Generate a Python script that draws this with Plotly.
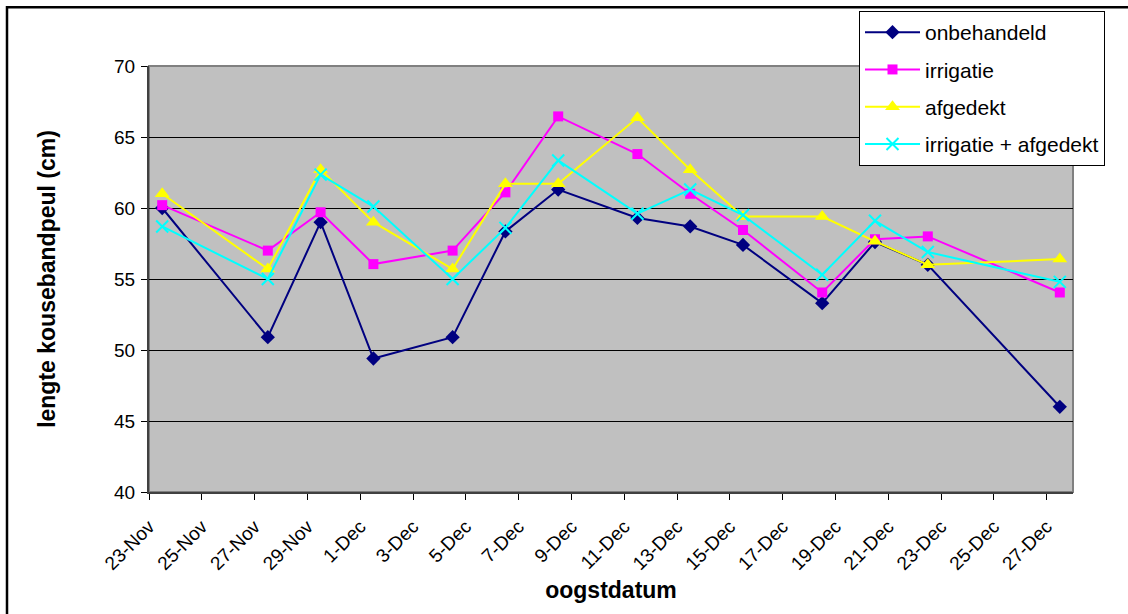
import plotly.graph_objects as go

dates = ["2006-11-23", "2006-11-27", "2006-11-29", "2006-12-01", "2006-12-04",
         "2006-12-06", "2006-12-08", "2006-12-11", "2006-12-13", "2006-12-15",
         "2006-12-18", "2006-12-20", "2006-12-22", "2006-12-27"]

onbehandeld = [60.0, 50.9, 59.0, 49.4, 50.9, 58.35, 61.3, 59.3, 58.7, 57.4, 53.3, 57.6, 56.0, 46.0]
irrigatie = [60.2, 57.0, 59.7, 56.05, 57.0, 61.1, 66.45, 63.8, 61.0, 58.45, 54.05, 57.8, 58.0, 54.05]
afgedekt = [61.0, 55.7, 62.7, 59.0, 55.7, 61.7, 61.7, 66.35, 62.7, 59.4, 59.4, 57.65, 56.0, 56.4]
irr_afgedekt = [58.7, 55.0, 62.35, 60.1, 55.0, 58.6, 63.35, 59.6, 61.3, 59.5, 55.3, 59.1, 56.9, 54.8]

series_names = ["onbehandeld", "irrigatie", "afgedekt", "irrigatie + afgedekt"]

tick_positions = ["2006-11-22 12:00", "2006-11-24 12:00", "2006-11-26 12:00", "2006-11-28 12:00",
                  "2006-11-30 12:00", "2006-12-02 12:00", "2006-12-04 12:00", "2006-12-06 12:00",
                  "2006-12-08 12:00", "2006-12-10 12:00", "2006-12-12 12:00", "2006-12-14 12:00",
                  "2006-12-16 12:00", "2006-12-18 12:00", "2006-12-20 12:00", "2006-12-22 12:00",
                  "2006-12-24 12:00", "2006-12-26 12:00"]
tick_labels = ["23-Nov", "25-Nov", "27-Nov", "29-Nov", "1-Dec", "3-Dec", "5-Dec", "7-Dec",
               "9-Dec", "11-Dec", "13-Dec", "15-Dec", "17-Dec", "19-Dec", "21-Dec", "23-Dec",
               "25-Dec", "27-Dec"]

FONT = "Arial, 'Liberation Sans', sans-serif"

styles = [
    dict(color="#000080", symbol="diamond", size=11, mline=0),
    dict(color="#FF00FF", symbol="square", size=10, mline=0),
    dict(color="#FFFF00", symbol="triangle-up", size=13, mline=0),
    dict(color="#00FFFF", symbol="x-thin", size=12, mline=2),
]

fig = go.Figure()
for name, vals, st in zip(series_names, [onbehandeld, irrigatie, afgedekt, irr_afgedekt], styles):
    fig.add_trace(go.Scatter(
        x=dates, y=vals, name=name, mode="lines+markers",
        legendgroup=name,
        line=dict(color=st["color"], width=2),
        marker=dict(symbol=st["symbol"], size=st["size"], color=st["color"],
                    line=dict(color=st["color"], width=st["mline"])),
    ))

W, H = 1128, 614
L, R, T, B = 149, 1073, 65, 492
pw, ph = R - L, B - T

def px(x):
    return (x - L) / pw

def py(y):
    return (B - y) / ph

fig.update_layout(
    width=W, height=H,
    margin=dict(l=L, r=W - R, t=T, b=H - B),
    paper_bgcolor="white",
    plot_bgcolor="#C0C0C0",
    font=dict(family=FONT, size=19, color="black"),
    showlegend=True,
    hovermode=False,
    legend=dict(
        x=px(859), y=py(11), xanchor="left", yanchor="top",
        bgcolor="white", bordercolor="black", borderwidth=1,
        font=dict(family=FONT, size=21, color="black"),
        itemwidth=55, tracegroupgap=7,
    ),
    xaxis=dict(
        type="date",
        range=["2006-11-22 12:00", "2006-12-27 12:00"],
        tickmode="array", tickvals=tick_positions, ticktext=tick_labels,
        tickangle=-45, ticks="outside", ticklen=6, tickcolor="black",
        ticklabelstandoff=8,
        showgrid=False, zeroline=False,
        showline=True, linecolor="#404040", linewidth=2,
        tickfont=dict(family=FONT, size=19, color="black"),
        title=dict(text="<b>oogstdatum</b>", font=dict(family=FONT, size=23, color="black"), standoff=9),
    ),
    yaxis=dict(
        range=[40, 70], dtick=5, tick0=40,
        ticks="outside", ticklen=6, tickcolor="black",
        ticklabelstandoff=2,
        showgrid=True, gridcolor="black", gridwidth=1,
        zeroline=False,
        showline=True, linecolor="#404040", linewidth=2,
        tickfont=dict(family=FONT, size=19, color="black"),
        title=dict(text="<b>lengte kousebandpeul (cm)</b>", font=dict(family=FONT, size=23, color="black"), standoff=52),
    ),
    shapes=[
        dict(type="rect", xref="paper", yref="paper", x0=0, x1=1, y0=0, y1=1,
             line=dict(color="#808080", width=2), layer="below"),
        dict(type="rect", xref="paper", yref="paper",
             x0=px(7), x1=px(1135), y0=py(620), y1=py(6),
             line=dict(color="black", width=2.5)),
    ],
)

fig.write_html("out.html", config={"displayModeBar": False, "staticPlot": True},
               post_script="document.body.style.margin='0';")
